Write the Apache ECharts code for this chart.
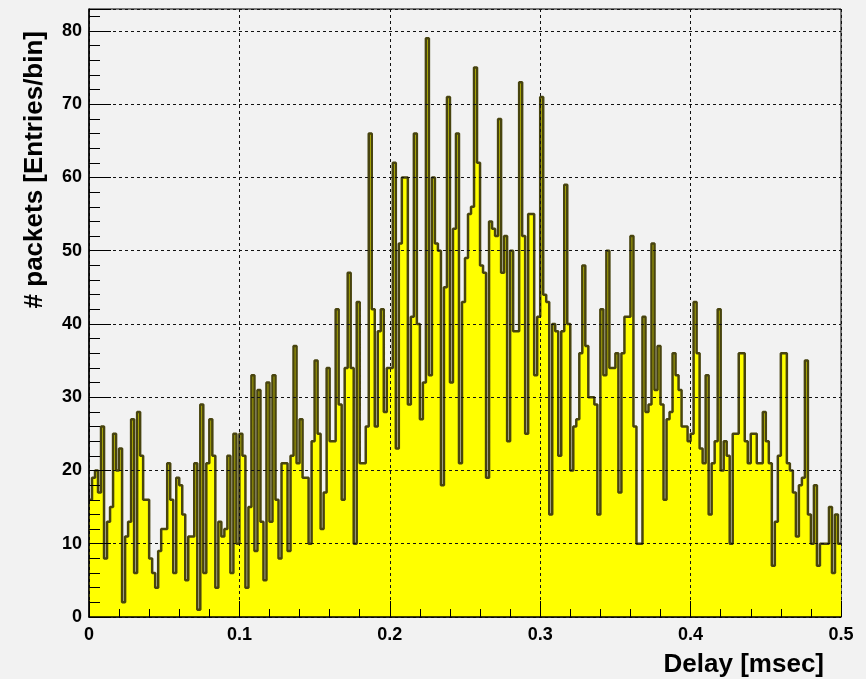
<!DOCTYPE html>
<html><head><meta charset="utf-8">
<script src="https://cdn.jsdelivr.net/npm/echarts@6/dist/echarts.min.js"></script>
<style>html,body{margin:0;padding:0;background:#f2f2f2}#c{width:866px;height:679px}</style>
</head><body><div id="c"></div><script>
// Histogram: 250 bins of 0.002 msec from 0 to 0.5 msec
const binWidth = 0.002;
const xMin = 0, xMax = 0.5;
const counts = [
16,19,20,17,26,8,13,15,25,20, 23,2,11,13,27,6,28,22,16,16,
8,6,4,9,12,12,21,16,6,19, 18,14,5,11,11,21,1,29,6,21,
27,22,4,13,11,12,22,6,25,10, 25,22,4,15,33,9,31,13,5,32,
13,33,16,8,21,21,9,22,37,21, 27,19,19,10,24,35,25,12,17,34,
24,24,42,29,16,34,47,34,10,43, 21,21,26,66,42,26,39,42,28,34,
34,62,23,51,60,60,29,41,66,40, 27,32,79,33,60,51,50,18,45,71,
32,53,66,21,43,49,55,56,75,62, 48,47,19,54,53,52,68,47,52,24,
50,39,39,73,52,25,55,55,33,41, 71,44,43,14,40,39,22,39,59,40,
20,26,27,36,48,37,30,30,29,14, 42,33,50,34,34,36,17,36,41,41,
52,26,10,10,41,28,29,51,31,37, 29,16,27,28,36,33,31,26,26,24,
25,43,36,23,21,33,14,21,24,42, 20,24,22,10,25,25,36,36,24,21,
25,25,21,21,28,24,21,7,13,22, 36,36,21,20,17,11,18,19,35,14,
10,18,7,10,10,10,15,6,14,10
];
const yTickStep = 10;
const xTickStep = 0.1;
const xTitle = 'Delay [msec]';
const yTitle = '# packets [Entries/bin]';

const data = counts.map((v, i) => [+(xMin + i * binWidth).toFixed(4), v]);
data.push([xMax, counts[counts.length - 1]]);

const chart = echarts.init(document.getElementById('c'), null, {renderer: 'canvas'});
const labelFont = {fontSize: 18, fontWeight: 'bold', color: '#000', fontFamily: 'Liberation Sans, Arial, sans-serif'};
chart.setOption({
  backgroundColor: '#f2f2f2',
  animation: false,
  grid: {left: 89, right: 25, top: 9, bottom: 62, show: true, borderColor: '#000', borderWidth: 1, backgroundColor: 'transparent'},
  xAxis: {
    type: 'value', min: xMin, max: xMax, interval: xTickStep, z: 5,
    axisLine: {show: true, lineStyle: {color: '#000', width: 1.5}},
    axisTick: {show: true, inside: true, length: 16, lineStyle: {color: '#000', width: 1}},
    minorTick: {show: true, splitNumber: 5, length: 8, lineStyle: {color: '#000', width: 1}},
    splitLine: {show: true, lineStyle: {type: [3, 3], color: '#111', width: 1}},
    axisLabel: Object.assign({margin: 9, formatter: v => String(+v.toFixed(2))}, labelFont)
  },
  yAxis: {
    type: 'value', min: 0, max: 83, interval: yTickStep, z: 5,
    axisLine: {show: true, lineStyle: {color: '#000', width: 1.5}},
    axisTick: {show: true, inside: true, length: 22, lineStyle: {color: '#000', width: 1}},
    minorTick: {show: true, splitNumber: 5, length: 11, lineStyle: {color: '#000', width: 1}},
    splitLine: {show: true, lineStyle: {type: [3, 3], color: '#111', width: 1}},
    axisLabel: Object.assign({margin: 7, showMaxLabel: false}, labelFont)
  },
  series: [{
    type: 'line', step: 'end', symbol: 'none', data: data, z: 2,
    lineStyle: {color: '#48440f', width: 2.5},
    areaStyle: {color: '#ffff00', opacity: 1, origin: 'start'}
  }],
  graphic: [
    {type: 'text', x: 824, y: 665, style: {text: xTitle, align: 'right', verticalAlign: 'middle', font: 'bold 26px "Liberation Sans", Arial, sans-serif', fill: '#000'}},
    {type: 'text', x: 35, y: 31, rotation: Math.PI / 2, style: {text: yTitle, align: 'right', verticalAlign: 'middle', font: 'bold 26px "Liberation Sans", Arial, sans-serif', fill: '#000'}}
  ]
});
</script></body></html>
